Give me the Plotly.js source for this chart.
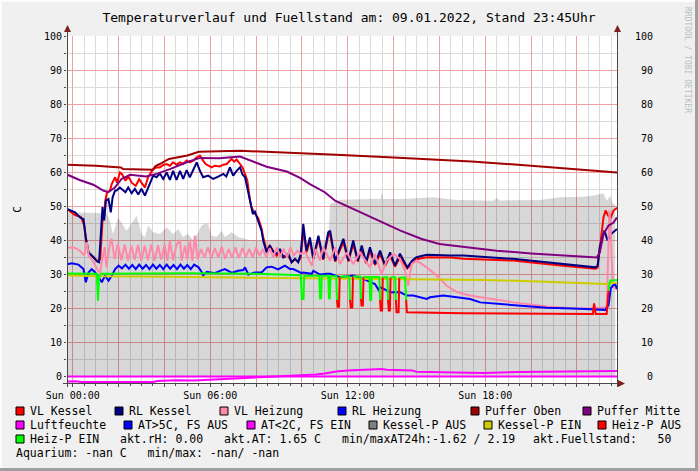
<!DOCTYPE html>
<html><head><meta charset="utf-8">
<script src="https://cdn.plot.ly/plotly-3.0.1.min.js"></script>
<style>html,body{margin:0;padding:0;background:#F0F0F0}#chart{width:698px;height:471px}</style>
</head><body><div id="chart"></div>
<script>
// ---------------- data (hours since Sun 00:00, values in C) ----------------
const titleText = 'Temperaturverlauf und Fuellstand am: 09.01.2022, Stand 23:45Uhr';
const xTickVals = [0,2,4,6,8,10,12,14,16,18,20,22];
const xTickText = ['Sun 00:00','','','Sun 06:00','','','Sun 12:00','','','Sun 18:00','',''];
const yTickVals = [0,10,20,30,40,50,60,70,80,90,100];

const fuelT = [-0.25,1.48,1.62,1.76,1.98,2.14,2.35,2.64,2.79,3.0,3.15,3.29,3.5,3.8,4.1,4.38,4.6,4.82,5.03,5.26,5.48,5.62,5.77,5.91,6.06,6.28,6.5,6.64,6.93,7.22,7.66,8.24,8.97,9.7,10.43,11.15,11.23,11.66,12.53,13.43,13.48,13.54,14.43,15.74,16.61,18.36,18.5,18.65,20.4,21.27,22.29,22.72,23.16,23.31,23.45,23.57,23.67,23.68];
const fuelV = [48.3,48,45.8,41.9,46.8,45,42.9,45.8,47.3,41.9,41.0,44.4,42.5,41.9,43.9,41.9,43.4,41.0,42,40.0,42.4,44.4,44.9,44.9,41.4,41,42.9,41.0,42.4,41.0,40.2,40,40.2,40,39.5,40,50.7,52,52.2,52.3,54.2,52.2,52.2,52.7,52,51.7,52.5,51.8,51.9,52.7,52.9,53.2,53.9,51.7,53.2,50.7,50.5,0];

const vlKesselT = [-0.25,0.1,0.35,0.5,0.57,0.69,0.91,1.1,1.2,1.26,1.31,1.36,1.42,1.5,1.63,1.7,1.85,1.93,2.06,2.15,2.3,2.42,2.57,2.75,2.9,3.05,3.15,3.29,3.51,3.66,3.8,3.95,4.1,4.24,4.38,4.53,4.68,4.82,4.97,5.11,5.26,5.41,5.55,5.69,5.8,6.06,6.2,6.42,6.57,6.72,6.93,7.05,7.15,7.3,7.41,7.52,7.62,7.73,7.8,7.9,8.0,8.1,8.24,8.31,8.46,8.6,8.74,8.9,9.04,9.19,9.41,9.55,9.7,9.84,9.95,10.06,10.2,10.35,10.5,10.72,10.93,11.15,11.23,11.45,11.81,12.03,12.24,12.44,12.61,12.8,12.97,13.19,13.41,13.63,13.85,14.06,14.28,14.6,14.8,15.0,15.45,16.5,17.05,19.2,21.4,22.8,22.9,22.97,23.1,23.16,23.25,23.35,23.45,23.6,23.75];
const vlKessel = [49.3,47.5,47,44.5,40.5,36.5,35,33.8,34.6,43,47,46,51.7,54.2,54.7,56.6,58.6,57,60,59.5,57.6,59,57,56.1,58,56.5,55.6,58.6,61,61.5,61.5,62.2,62.5,62,63,62.3,63,62.5,63.5,63,63.5,64.5,65,63.5,62.5,61.5,62,61.8,62.3,62.5,64,63.2,63.8,62.5,61.5,59.5,57.6,52,49.8,48.5,47.5,46.5,43.5,41,37,38.5,37,35.5,37,35,35.5,33.6,34.5,33.8,35,43,36.5,40,34.5,40.5,34.3,41.5,42,33.8,39.5,33.8,39,33.8,37.5,33.3,37,32.8,36,32.5,35.5,32.3,35,31.8,33.3,34.5,35.1,35,34.6,34.1,32.6,31.7,32,36,44,46.8,48.8,47.5,46.3,48.8,49.6];

const rlKesselT = [-0.25,0.1,0.32,0.47,0.57,0.69,0.91,1.05,1.15,1.24,1.3,1.37,1.45,1.56,1.66,1.74,1.85,1.91,2.06,2.3,2.42,2.57,2.71,2.86,3.0,3.15,3.29,3.51,3.66,3.8,3.95,4.1,4.24,4.38,4.53,4.68,4.82,4.97,5.11,5.26,5.41,5.55,5.69,5.91,6.13,6.35,6.57,6.7,6.86,7.0,7.15,7.3,7.41,7.52,7.62,7.73,7.86,7.95,8.1,8.24,8.31,8.46,8.6,8.74,8.9,9.04,9.19,9.41,9.55,9.7,9.84,9.95,10.06,10.2,10.35,10.5,10.72,10.93,11.15,11.23,11.45,11.81,12.03,12.24,12.44,12.61,12.8,12.97,13.19,13.41,13.63,13.85,14.06,14.28,14.6,14.8,15.0,15.45,16.5,17.05,19.2,21.4,22.8,22.9,23.0,23.2,23.34,23.49,23.75];
const rlKessel = [49.3,48.3,46.8,46.3,40.9,36.5,35.1,33.9,33.6,42,49.8,45.9,51.8,52.2,48.3,52.7,54.7,54.7,55.6,54.2,55.6,53.9,55.2,53.5,55.2,53.2,55.6,59.1,58.6,59.7,58.1,60.0,57.8,60.5,57.8,60.5,58.1,60.7,58.6,61.0,63.0,60.5,58.6,59.1,58.1,58.8,59.6,58.8,61.5,59.1,60.5,61.5,59.4,58.6,55.6,51.7,47.8,48.5,45.8,42.9,40,36.5,38.5,36.8,36.1,37.5,35.1,36.1,33.6,34.6,33.6,36,44.9,37,40.9,34.6,41.4,34.6,42.4,42.9,34.1,40.5,34.1,40,34.1,38.5,33.6,38,33.1,37,32.8,36.5,32.6,36.1,32.1,34,35.1,35.8,35.6,35.6,34.6,33.1,32.1,32.5,38,42.9,40,41.9,43.4];

const vlHeizungT = [-0.25,0.1,0.31,0.5,0.62,0.7,0.87,1.1,1.2,1.25,1.4,1.47,1.62,1.69,1.83,1.97,2.12,2.27,2.41,2.56,2.7,2.85,2.99,3.14,3.28,3.43,3.57,3.72,3.86,4.01,4.13,4.24,4.38,4.53,4.68,4.75,4.9,5.0,5.11,5.22,5.33,5.45,5.6,5.75,5.9,6.05,6.2,6.35,6.5,6.65,6.8,6.95,7.1,7.25,7.4,7.55,7.7,7.85,8.0,8.15,8.3,8.45,8.6,8.75,8.9,9.05,9.2,9.35,9.5,9.65,9.8,9.95,10.15,10.43,10.6,10.79,10.93,11.23,11.45,11.66,11.96,12.24,12.53,12.97,13.19,13.48,13.7,14.0,14.28,14.5,14.64,14.79,15.0,15.45,15.88,16.32,16.76,17.34,17.78,19.23,20.69,22.14,23.3,23.38,23.42,23.48,23.52,23.6,23.75];
const vlHeizung = [38,37.8,37,35.6,39.5,35.5,34.1,31.1,30.6,33.1,38,32.1,39,40.5,34.5,39,34.2,38.8,34,38.5,34.3,38.7,34,38.5,34.2,38.8,34,38.6,34.3,38.8,34,39.8,34.2,38.7,40.2,34,38.5,34.2,40.2,34,41.4,34.5,37.5,35,38,34.8,37.8,35,38.2,34.6,37.5,35,38,34.8,37.8,35.2,37.5,35,38,35.5,37.5,35,37.8,35,38,35.2,37.6,35,38,35.5,37,36.1,36.5,32.6,37.5,34.1,38,34.1,38,33.1,36.5,33.1,36.5,32.1,36,30.2,34.1,36.1,34.6,31.1,26.7,33.1,34.1,32.1,29.7,26.7,24.8,23.8,23.3,21.8,20.6,19.9,20.4,42.9,48.8,41.9,34.1,26.3,25.5];

const rlHeizungT = [-0.25,-0.04,0.25,0.47,0.57,0.69,0.83,0.98,1.13,1.27,1.41,1.56,1.71,1.85,2.0,2.15,2.3,2.45,2.6,2.75,2.9,3.05,3.2,3.35,3.5,3.65,3.8,3.95,4.1,4.25,4.4,4.55,4.7,4.85,5.0,5.15,5.3,5.49,5.64,5.69,5.85,6.13,6.2,6.4,6.57,6.64,6.95,7.22,7.44,7.52,7.66,7.95,8.24,8.46,8.68,8.96,9.26,9.48,9.62,9.99,10.05,10.43,10.5,10.79,11.08,11.23,11.66,12.24,12.68,13.19,13.34,13.41,13.7,13.85,14.28,14.58,14.86,15.45,15.59,16.17,16.76,17.34,17.78,19.23,20.69,22.14,23.24,23.38,23.48,23.57,23.67,23.75];
const rlHeizung = [33.0,33.3,32.9,31.6,27.7,30.6,31.6,30.6,29.2,27.7,29.7,28.2,29.7,31.6,32.6,31.8,32.9,31.7,32.8,31.6,32.9,31.7,32.8,31.6,32.9,31.7,32.8,31.6,32.9,31.7,32.8,31.6,32.9,31.7,32.8,31.6,32.9,32.1,30.6,29.7,30.8,30.6,30.4,31,31.3,31.6,30.5,31.1,31.3,32.1,30,30.6,30.6,32.1,32.3,31.5,32.6,31.6,31.6,30.4,30.6,30.2,31.1,30,30.2,30.2,29.2,29.7,28.7,27.2,25.5,26.3,25.3,24.8,24.8,23.8,23.8,22.8,23.3,23.8,23.3,22.8,21.8,20.9,20.2,19.9,19.6,21,26,26.7,27.2,25.8];

const pufferObenT = [-0.25,1.0,2.1,2.2,3.5,3.6,3.8,4.2,5.0,5.5,7.3,9,11.5,14,17.4,20,23.75];
const pufferOben = [62.3,62.0,61.5,61.0,60.8,61.8,62.5,64,65,66.1,66.4,66,65.2,64.4,63.2,62,60.0];

const pufferMitteT = [-0.25,0.3,0.9,1.33,1.55,1.84,2.13,2.5,3.2,3.66,4.24,4.97,5.55,6.4,7.3,7.73,8.46,9.34,9.92,10.35,11.0,11.45,12.4,13.4,14.3,15.2,16.0,17.2,18.5,20.0,21.4,22.7,22.87,23.0,23.16,23.38,23.6,23.75];
const pufferMitte = [59.4,57.8,56.4,54.7,54.2,55.6,58.1,59.3,58.8,59.6,61.0,63.0,64.3,64.2,64.7,63.5,61.7,60.3,58.4,56.6,54.2,51.7,48.8,45.8,42.9,40.5,39.0,38.0,37.0,36.2,35.6,35.1,35.0,36.5,41.9,44.4,45.3,46.8];

const luftT = [-0.25,23.75];
const luftfeuchte = [0,0];

const atT = [-0.25,0.1,0.4,1.5,3.5,3.7,4.5,5.3,6.5,8.2,9.7,10.6,11.0,11.5,12.0,13.0,13.48,13.7,14.8,15.0,17.9,19.4,21.5,23.75];
const atV = [-1.5,-1.4,-1.62,-1.6,-1.6,-1.3,-1.1,-1.2,-0.8,-0.3,0.2,0.6,0.9,1.5,1.8,2.0,2.19,2.0,1.8,1.4,1.0,1.3,1.5,1.65];

const kesselPT = [-0.25,1,3,6,9,11,13,15,17,18,20,22,23.3,23.5,23.75];
const kesselP = [29.8,29.5,29.4,29.2,29.0,28.8,28.7,28.7,28.4,28.4,28.0,27.6,27.2,27.5,27.6];

const heizT = [-0.25,1.05,1.1,1.15,1.25,5.0,8.0,9.95,10.0,10.07,10.1,10.76,10.79,10.84,10.87,11.15,11.18,11.22,11.25,11.5,11.53,11.56,11.62,11.65,12.07,12.1,12.13,12.2,12.23,12.55,12.58,12.6,12.66,12.69,12.95,12.98,13.02,13.05,13.38,13.41,13.44,13.5,13.53,13.73,13.76,13.79,13.84,13.87,14.07,14.1,14.13,14.22,14.25,14.5,14.55,14.58,17.0,21.0,22.7,22.75,22.82,23.3,23.38,23.45,23.75];
const heizV = [30.3,30.2,22.3,29.5,30.2,30.4,30.2,29.8,22.8,22.8,29.6,29.6,23,23,29.6,29.6,23,23,29.5,29.5,22.5,20.5,20.5,29.4,29.4,22.5,20.3,20.3,29.4,29.4,22.8,20.9,20.9,29.3,29.3,22.5,22.5,29.3,29.3,22.5,19.4,19.4,29.2,29.2,22.5,19.4,19.4,29.2,29.2,22.5,18.9,18.9,29.1,29.1,22.5,18.9,18.6,18.4,18.4,21.5,18.4,18.4,25.3,28.2,28.4];
const heizOn = [1,1,1,1,1,1,1,1,1,1,1,1,1,1,1,1,1,1,1,1,1,0,0,1,1,1,0,0,1,1,1,0,0,1,1,1,1,1,1,1,0,0,1,1,1,0,0,1,1,1,0,0,1,1,1,0,0,0,0,0,0,0,1,1,1];

const legendLabels = ['VL Kessel','RL Kessel','VL Heizung','RL Heizung','Puffer Oben','Puffer Mitte','Luftfeuchte','AT&gt;5C, FS AUS','AT&lt;2C, FS EIN','Kessel-P AUS','Kessel-P EIN','Heiz-P AUS','Heiz-P EIN'];
const aktRH = '0.00', aktAT = '1.65', atMin = '-1.62', atMax = '2.19', aktFuel = '50';

// ---------------- styling / layout ----------------
const colors = {vlk:'#FF0000', rlk:'#000080', vlh:'#FF88A8', rlh:'#0000FF', po:'#A00000', pm:'#800080',
  luft:'#FF00FF', atHigh:'#0000FF', atLow:'#FF00FF', kAus:'#808080', kEin:'#CCCC00', hAus:'#FF0000', hEin:'#00FF00'};
const legendColors = [colors.vlk,colors.rlk,colors.vlh,colors.rlh,colors.po,colors.pm,colors.luft,colors.atHigh,colors.atLow,colors.kAus,colors.kEin,colors.hAus,colors.hEin];
const legendBoxX = [16,115,220,338,471,583,16,124,247,369,484,598,16];
const legendRowY = [411,411,411,411,411,411,425,425,425,425,425,425,439];

const MONO = 'DejaVu Sans Mono';
const L=67, R=617, T=36, B=383;
const px = x => (x-L)/(R-L), py = y => (B-y)/(B-T);
// y scale 3.4 px per degree, 100 C on pixel centre 36.5
const Y_TOP = 100 + 0.5/3.4, Y_BOT = Y_TOP - (B-T)/3.4;

function line(x, y, color, name){
  return {type:'scatter', mode:'lines', x, y, name, line:{color, width:2}, hoverinfo:'skip'};
}
const heizRed = heizV.map((v,i)=> (heizOn[i]===0 || heizOn[i-1]===0 || heizOn[i+1]===0) ? v : null);
const heizGreen = heizV.map((v,i)=> heizOn[i]===1 ? v : null);

const traces = [
  {type:'scatter', mode:'lines', x:fuelT, y:fuelV, fill:'tozeroy', fillcolor:'rgba(0,0,0,0.155)', line:{width:0, color:'rgba(0,0,0,0)'}, name:'Fuellstand', hoverinfo:'skip'},
  line(vlKesselT, vlKessel, colors.vlk, 'VL Kessel'),
  line(rlKesselT, rlKessel, colors.rlk, 'RL Kessel'),
  line(vlHeizungT, vlHeizung, colors.vlh, 'VL Heizung'),
  line(rlHeizungT, rlHeizung, colors.rlh, 'RL Heizung'),
  line(pufferObenT, pufferOben, colors.po, 'Puffer Oben'),
  line(pufferMitteT, pufferMitte, colors.pm, 'Puffer Mitte'),
  line(luftT, luftfeuchte, colors.luft, 'Luftfeuchte'),
  line(atT, atV, colors.atLow, 'AT<2C, FS EIN'),
  line(kesselPT, kesselP, colors.kEin, 'Kessel-P EIN'),
  line(heizT, heizRed, colors.hAus, 'Heiz-P AUS'),
  line(heizT, heizGreen, colors.hEin, 'Heiz-P EIN'),
];
// overlay axes: red major grid + labels on x2 / y3, right labels on y2
traces.push({type:'scatter', mode:'lines', x:[-0.25,23.75], y:[null,null], yaxis:'y2', showlegend:false, hoverinfo:'skip'});
traces.push({type:'scatter', mode:'lines', x:[-0.25,23.75], y:[null,null], xaxis:'x2', yaxis:'y3', showlegend:false, hoverinfo:'skip'});

const nb = s => s.replace(/ /g,'\u00A0');
const annotations = [];
const shapes = [];
const LEG_FONT = {family:MONO, size:11.5, color:'#000'};
legendLabels.forEach((lab,i)=>{
  const bx = legendBoxX[i], by = legendRowY[i];
  shapes.push({type:'rect', xref:'paper', yref:'paper', x0:px(bx), x1:px(bx+8), y0:py(by+4), y1:py(by-4),
    fillcolor:legendColors[i], line:{color:'#000', width:1}});
  annotations.push({xref:'paper', yref:'paper', x:px(bx+13), y:py(by), xanchor:'left', yanchor:'middle',
    text:nb(lab), showarrow:false, font:LEG_FONT, borderpad:0});
});
const infoTexts = ['akt.rH: '+aktRH, 'akt.AT: '+aktAT+' C', 'min/maxAT24h:'+atMin+' / '+atMax, 'akt.Fuellstand:   '+aktFuel, 'Aquarium: -nan C   min/max: -nan/ -nan'];
const infoX = [120, 224, 342, 533, 16];
const infoY = [439, 439, 439, 439, 453];
infoTexts.forEach((t,i)=>{
  annotations.push({xref:'paper', yref:'paper', x:px(infoX[i]-1), y:py(infoY[i]), xanchor:'left', yanchor:'middle',
    text:nb(t), showarrow:false, font:LEG_FONT, borderpad:0});
});
annotations.push({xref:'paper', yref:'paper', x:px(688), y:py(60), text:'RRDTOOL / TOBI OETIKER', textangle:90,
  showarrow:false, font:{family:MONO, size:8, color:'#BDBDBD'}, xanchor:'center', yanchor:'middle'});

const AX = '#484848', ARROW = '#7F1F1F';
shapes.push({type:'rect', xref:'paper', yref:'paper', x0:px(695), x1:px(698), y0:py(0), y1:py(471), fillcolor:'#9E9E9E', line:{width:0}});
shapes.push({type:'rect', xref:'paper', yref:'paper', x0:px(0), x1:px(698), y0:py(468), y1:py(471), fillcolor:'#9E9E9E', line:{width:0}});
shapes.push({type:'rect', xref:'paper', yref:'paper', x0:px(0), x1:px(2), y0:py(0), y1:py(468), fillcolor:'#FCFCFC', line:{width:0}});
shapes.push({type:'rect', xref:'paper', yref:'paper', x0:px(0), x1:px(695), y0:py(0), y1:py(2), fillcolor:'#FCFCFC', line:{width:0}});
[L+0.5, R+0.5].forEach(xx=>{
  shapes.push({type:'line', xref:'paper', yref:'paper', x0:px(xx), x1:px(xx), y0:py(31), y1:py(387), line:{color:AX, width:1}});
  shapes.push({type:'path', xref:'paper', yref:'paper', path:`M${px(xx)},${py(25)} L${px(xx-3.5)},${py(32)} L${px(xx+3.5)},${py(32)} Z`, fillcolor:ARROW, line:{width:0}});
});
shapes.push({type:'line', xref:'paper', yref:'paper', x0:px(63), x1:px(619), y0:py(B+0.5), y1:py(B+0.5), line:{color:AX, width:1}});
shapes.push({type:'path', xref:'paper', yref:'paper', path:`M${px(625)},${py(B+0.5)} L${px(618)},${py(B-3)} L${px(618)},${py(B+4)} Z`, fillcolor:ARROW, line:{width:0}});

const GRID_MAJOR = '#F0A0A0', GRID_MINOR = '#DADADA';
const layout = {
  width:698, height:471,
  margin:{l:L, r:698-R, t:T, b:471-B, pad:0},
  paper_bgcolor:'#F0F0F0', plot_bgcolor:'#FFFFFF',
  showlegend:false,
  font:{family:MONO, size:10, color:'#000'},
  title:{text:titleText, font:{family:MONO, size:13, color:'#000'}, x:0.5, xref:'container', y:1-17/471, yref:'container', yanchor:'middle', xanchor:'center'},
  // base axes: fine grey grid (half hours / 5 degrees)
  xaxis:{range:[-0.25,23.75], tickmode:'linear', tick0:0, dtick:0.5, showticklabels:false,
    showgrid:true, gridcolor:GRID_MINOR, gridwidth:1, zeroline:false, showline:false,
    ticks:'outside', ticklen:2, tickcolor:AX, fixedrange:true},
  yaxis:{range:[Y_BOT,Y_TOP], tickmode:'linear', tick0:0, dtick:5, showticklabels:false,
    showgrid:true, gridcolor:GRID_MINOR, gridwidth:1, zeroline:false, showline:false,
    ticks:'outside', ticklen:2, tickcolor:AX,
    title:{text:'C', font:{family:MONO, size:11}, standoff:40}, fixedrange:true},
  // overlay axes: red major grid with labels
  xaxis2:{overlaying:'x', side:'bottom', anchor:'y3', range:[-0.25,23.75], tickmode:'array', tickvals:xTickVals, ticktext:xTickText,
    showgrid:true, gridcolor:GRID_MAJOR, gridwidth:1, zeroline:false, showline:false,
    ticks:'outside', ticklen:3, tickcolor:AX, tickfont:{family:MONO, size:10}, fixedrange:true},
  yaxis3:{overlaying:'y', side:'left', anchor:'x2', range:[Y_BOT,Y_TOP], tickmode:'array', tickvals:yTickVals, ticktext:yTickVals.map(String),
    showgrid:true, gridcolor:GRID_MAJOR, gridwidth:1, zeroline:false, showline:false,
    ticks:'outside', ticklen:2, tickcolor:AX, tickfont:{family:MONO, size:10}, fixedrange:true},
  yaxis2:{overlaying:'y', side:'right', range:[Y_BOT,Y_TOP], tickmode:'array', tickvals:yTickVals,
    ticktext:yTickVals.map(v=>String(v).padStart(3,'\u00A0')), showgrid:false, zeroline:false, showline:false,
    ticks:'', ticklabelstandoff:17, tickfont:{family:MONO, size:10}, fixedrange:true},
  annotations, shapes
};
Plotly.newPlot('chart', traces, layout, {displayModeBar:false, staticPlot:true});
</script></body></html>
